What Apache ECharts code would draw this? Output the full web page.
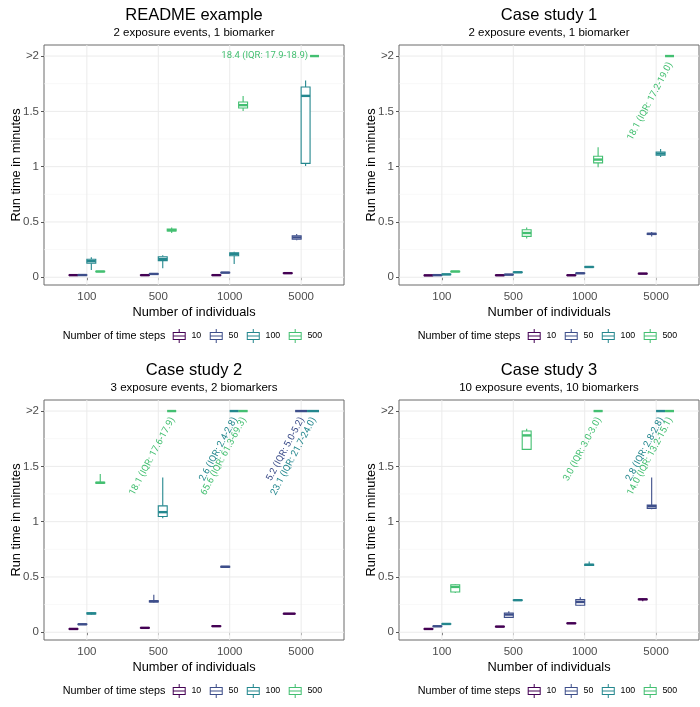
<!DOCTYPE html>
<html>
<head>
<meta charset="utf-8">
<title>Run time in minutes</title>
<script src="https://cdn.jsdelivr.net/npm/echarts@6.0.0/dist/echarts.min.js"></script>
<style>
  html, body { margin: 0; padding: 0; background: #fff; }
  #chart { width: 700px; height: 707px; }
</style>
</head>
<body>
<div id="chart"></div>
<script>
const individuals = ['100', '500', '1000', '5000'];
const timeSteps = ['10', '50', '100', '500'];
const stepColors = ['#440154', '#3d4e8a', '#24878e', '#43bf71'];
const yTickValues = [0, 0.5, 1, 1.5, 2];
const yTickLabels = ['0', '0.5', '1', '1.5', '>2'];
const yMinorValues = [0.25, 0.75, 1.25, 1.75];

const panelTitles = ['README example', 'Case study 1', 'Case study 2', 'Case study 3'];
const panelSubtitles = [
  '2 exposure events, 1 biomarker',
  '2 exposure events, 1 biomarker',
  '3 exposure events, 2 biomarkers',
  '10 exposure events, 10 biomarkers'
];

// box stats per number of individuals: [min, q1, median, q3, max]
// runs longer than 2 minutes sit on the >2 ceiling, null = not run
const readme10 = [[0.015, 0.017, 0.019, 0.021, 0.023], [0.015, 0.017, 0.019, 0.021, 0.023], [0.015, 0.017, 0.019, 0.021, 0.023], [0.033, 0.035, 0.037, 0.039, 0.041]];
const readme50 = [[0.016, 0.018, 0.020, 0.022, 0.024], [0.026, 0.028, 0.030, 0.032, 0.034], [0.038, 0.040, 0.042, 0.044, 0.046], [0.335, 0.343, 0.360, 0.375, 0.390]];
const readme100 = [[0.066, 0.127, 0.145, 0.163, 0.180], [0.081, 0.150, 0.165, 0.186, 0.200], [0.120, 0.195, 0.210, 0.222, 0.230], [1.006, 1.030, 1.640, 1.720, 1.780]];
const readme500 = [[0.047, 0.050, 0.052, 0.054, 0.056], [0.400, 0.418, 0.425, 0.435, 0.450], [1.504, 1.530, 1.556, 1.585, 1.640], [2, 2, 2, 2, 2]];

const case1_10 = [[0.013, 0.015, 0.017, 0.019, 0.021], [0.014, 0.016, 0.018, 0.020, 0.022], [0.014, 0.016, 0.018, 0.020, 0.022], [0.029, 0.031, 0.033, 0.035, 0.037]];
const case1_50 = [[0.015, 0.017, 0.019, 0.021, 0.023], [0.020, 0.022, 0.024, 0.026, 0.028], [0.032, 0.034, 0.036, 0.038, 0.040], [0.368, 0.386, 0.392, 0.398, 0.410]];
const case1_100 = [[0.022, 0.024, 0.026, 0.028, 0.030], [0.041, 0.043, 0.045, 0.047, 0.049], [0.089, 0.091, 0.093, 0.095, 0.097], [1.088, 1.103, 1.118, 1.133, 1.160]];
const case1_500 = [[0.048, 0.050, 0.052, 0.054, 0.056], [0.350, 0.370, 0.400, 0.430, 0.450], [0.995, 1.034, 1.064, 1.094, 1.175], [2, 2, 2, 2, 2]];

const case2_10 = [[0.026, 0.028, 0.030, 0.032, 0.034], [0.036, 0.038, 0.040, 0.042, 0.044], [0.051, 0.053, 0.055, 0.057, 0.059], [0.164, 0.166, 0.168, 0.170, 0.172]];
const case2_50 = [[0.068, 0.070, 0.072, 0.074, 0.076], [0.270, 0.275, 0.280, 0.285, 0.340], [0.585, 0.588, 0.592, 0.596, 0.600], [2, 2, 2, 2, 2]];
const case2_100 = [[0.160, 0.165, 0.170, 0.175, 0.180], [1.030, 1.047, 1.086, 1.143, 1.400], [2, 2, 2, 2, 2], [2, 2, 2, 2, 2]];
const case2_500 = [[1.345, 1.348, 1.352, 1.356, 1.430], [2, 2, 2, 2, 2], [2, 2, 2, 2, 2], null];

const case3_10 = [[0.025, 0.028, 0.030, 0.032, 0.034], [0.047, 0.049, 0.051, 0.053, 0.055], [0.077, 0.079, 0.081, 0.083, 0.085], [0.280, 0.295, 0.298, 0.300, 0.305]];
const case3_50 = [[0.050, 0.052, 0.054, 0.056, 0.058], [0.130, 0.135, 0.160, 0.174, 0.190], [0.240, 0.244, 0.274, 0.295, 0.316], [1.113, 1.120, 1.140, 1.150, 1.400]];
const case3_100 = [[0.071, 0.073, 0.075, 0.077, 0.079], [0.286, 0.288, 0.290, 0.292, 0.294], [0.600, 0.605, 0.610, 0.615, 0.640], [2, 2, 2, 2, 2]];
const case3_500 = [[0.355, 0.364, 0.410, 0.430, 0.436], [1.650, 1.654, 1.780, 1.820, 1.840], [2, 2, 2, 2, 2], [2, 2, 2, 2, 2]];

// median run time of the capped boxes: [individuals, time steps, text]
const readmeNotes = [['5000', '500', '18.4 (IQR: 17.9-18.9)']];
const case1Notes = [['5000', '500', '18.1 (IQR: 17.2-19.0)']];
const case2Notes = [
  ['500', '500', '18.1 (IQR: 17.6-17.9)'],
  ['1000', '100', '2.6 (IQR: 2.4-2.8)'],
  ['1000', '500', '65.6 (IQR: 61.3-69.3)'],
  ['5000', '50', '5.2 (IQR: 5.0-5.2)'],
  ['5000', '100', '23.1 (IQR: 21.7-24.0)']
];
const case3Notes = [
  ['1000', '500', '3.0 (IQR: 3.0-3.0)'],
  ['5000', '100', '2.8 (IQR: 2.8-2.8)'],
  ['5000', '500', '14.0 (IQR: 13.2-15.1)']
];

const panelStats = [
  [readme10, readme50, readme100, readme500],
  [case1_10, case1_50, case1_100, case1_500],
  [case2_10, case2_50, case2_100, case2_500],
  [case3_10, case3_50, case3_100, case3_500]
];
const panelNotes = [readmeNotes, case1Notes, case2Notes, case3Notes];

const FONT = 'Liberation Sans, Arial, sans-serif';
const grids = [
  { left: 44, top: 45, width: 300, height: 240 },
  { left: 399, top: 45, width: 300, height: 240 },
  { left: 44, top: 400, width: 300, height: 240 },
  { left: 399, top: 400, width: 300, height: 240 }
];
const catTicks = individuals.map((_, i) => i + 1);
const keyIcon = 'path://M1,3L14,3L14,11L1,11Z M2,4L2,10L13,10L13,4Z M2,6.5L13,6.5L13,7.5L2,7.5Z M7,0L8,0L8,3L7,3Z M7,11L8,11L8,14L7,14Z';

function boxRenderer(color, notes, flatNotes) {
  return function (params, api) {
    const x = api.value(0);
    const hw = api.value(6);
    const xl = api.coord([x - hw, 0])[0];
    const xr = api.coord([x + hw, 0])[0];
    const xc = api.coord([x, 0])[0];
    const py = i => api.coord([x, api.value(i)])[1];
    const yMin = py(1), yQ1 = py(2), yMed = py(3), yQ3 = py(4), yMax = py(5);
    const thin = { stroke: color, lineWidth: 1.1 };
    const children = [
      { type: 'line', shape: { x1: xc, y1: yQ3, x2: xc, y2: yMax }, style: thin },
      { type: 'line', shape: { x1: xc, y1: yQ1, x2: xc, y2: yMin }, style: thin },
      { type: 'rect', shape: { x: xl, y: yQ3, width: xr - xl, height: yQ1 - yQ3 },
        style: { fill: '#fff', stroke: color, lineWidth: 1.1 } },
      { type: 'line', shape: { x1: xl, y1: yMed, x2: xr, y2: yMed }, style: { stroke: color, lineWidth: 2.4 } }
    ];
    const note = notes[params.dataIndex];
    if (note) {
      const textStyle = { text: note, fill: color, font: '9.5px Roboto', align: 'right', verticalAlign: 'middle' };
      if (flatNotes) {
        children.push({ type: 'text', x: xl - 2, y: yMed, style: textStyle });
      } else {
        children.push({ type: 'text', x: xc + 1, y: yMed + 7, rotation: 62 * Math.PI / 180, style: textStyle });
      }
    }
    return { type: 'group', children };
  };
}

function gridRenderer(params, api) {
  const cs = params.coordSys;
  const vertical = api.value(2) === 1;
  const major = api.value(3) === 1;
  const style = { stroke: major ? '#ebebeb' : '#f4f4f4', lineWidth: major ? 1 : 0.6 };
  if (vertical) {
    const x = api.coord([api.value(0), 0])[0];
    return { type: 'line', shape: { x1: x, y1: cs.y, x2: x, y2: cs.y + cs.height }, style };
  }
  const y = api.coord([1, api.value(1)])[1];
  return { type: 'line', shape: { x1: cs.x, y1: y, x2: cs.x + cs.width, y2: y }, style };
}

const gridLines = []
  .concat(yTickValues.map(v => [1, v, 0, 1]))
  .concat(yMinorValues.map(v => [1, v, 0, 0]))
  .concat(catTicks.map(c => [c, 0, 1, 1]));

const series = [];
const xAxes = [];
const yAxes = [];
const titles = [];
const legends = [];

grids.forEach((g, p) => {
  const cx = g.left + g.width / 2;
  const dx = g.left - 44;
  const dy = g.top - 45;

  xAxes.push({
    gridIndex: p, type: 'value', min: 0.4, max: 4.6,
    axisLine: { show: false }, splitLine: { show: false },
    axisTick: { show: true, customValues: catTicks, length: 3, lineStyle: { color: '#555' } },
    axisLabel: {
      customValues: catTicks, formatter: v => individuals[Math.round(v) - 1],
      fontSize: 11.5, color: '#4d4d4d', margin: 6, fontFamily: FONT
    },
    name: 'Number of individuals', nameLocation: 'middle', nameGap: 21,
    nameTextStyle: { fontSize: 12.8, color: '#000', fontFamily: FONT }
  });
  yAxes.push({
    gridIndex: p, type: 'value', min: -0.07, max: 2.1,
    axisLine: { show: false }, splitLine: { show: false },
    axisTick: { show: true, customValues: yTickValues, length: 3, lineStyle: { color: '#555' } },
    axisLabel: {
      customValues: yTickValues,
      formatter: v => yTickLabels[yTickValues.findIndex(t => Math.abs(t - v) < 1e-9)],
      fontSize: 11.5, color: '#4d4d4d', margin: 5, fontFamily: FONT
    },
    name: 'Run time in minutes', nameLocation: 'middle', nameGap: 21, nameMoveOverlap: false,
    nameTextStyle: { fontSize: 12.8, color: '#000', fontFamily: FONT }
  });

  series.push({
    type: 'custom', name: 'grid', xAxisIndex: p, yAxisIndex: p, silent: true, z: 1,
    data: gridLines, renderItem: gridRenderer
  });

  const stats = panelStats[p];
  const present = individuals.map((_, c) => stats.filter(s => s[c]).length);
  stats.forEach((steps, s) => {
    const data = [];
    const notes = [];
    individuals.forEach((ind, c) => {
      const st = steps[c];
      if (!st) return;
      const n = present[c];
      let k = 0;
      for (let j = 0; j < s; j++) if (stats[j][c]) k++;
      const w = 0.5 / n;
      data.push([c + 1 + (k - (n - 1) / 2) * w].concat(st, [w / 2]));
      const note = panelNotes[p].find(r => r[0] === ind && r[1] === timeSteps[s]);
      notes.push(note ? note[2] : '');
    });
    series.push({
      type: 'custom', name: timeSteps[s], xAxisIndex: p, yAxisIndex: p, z: 3,
      itemStyle: { color: stepColors[s] },
      data, renderItem: boxRenderer(stepColors[s], notes, p === 0)
    });
  });

  titles.push({
    text: panelTitles[p], subtext: panelSubtitles[p],
    left: cx, top: 5 + dy, textAlign: 'center', padding: 0, itemGap: 1,
    textStyle: { fontSize: 16.5, fontWeight: 'normal', color: '#000', lineHeight: 20, fontFamily: FONT },
    subtextStyle: { fontSize: 11.5, color: '#000', lineHeight: 14, fontFamily: FONT }
  });
  titles.push({
    text: 'Number of time steps', left: 62.7 + dx, top: 329 + dy, padding: 0,
    textStyle: { fontSize: 10.8, fontWeight: 'normal', color: '#000', lineHeight: 14, fontFamily: FONT }
  });
  legends.push({
    left: 172.7 + dx, top: 329 + dy, padding: 0, orient: 'horizontal',
    itemWidth: 14.5, itemHeight: 14, itemGap: 8.5, selectedMode: false,
    data: timeSteps.map(n => ({ name: n, icon: keyIcon })),
    textStyle: { fontSize: 8.8, color: '#000', fontFamily: FONT }
  });
});

const chart = echarts.init(document.getElementById('chart'));
chart.setOption({
  animation: false,
  backgroundColor: '#fff',
  textStyle: { fontFamily: FONT },
  title: titles,
  legend: legends,
  grid: grids.map(g => Object.assign({ show: true, borderColor: '#6b6b6b', borderWidth: 1, backgroundColor: 'transparent' }, g)),
  xAxis: xAxes,
  yAxis: yAxes,
  series
});
</script>
</body>
</html>
